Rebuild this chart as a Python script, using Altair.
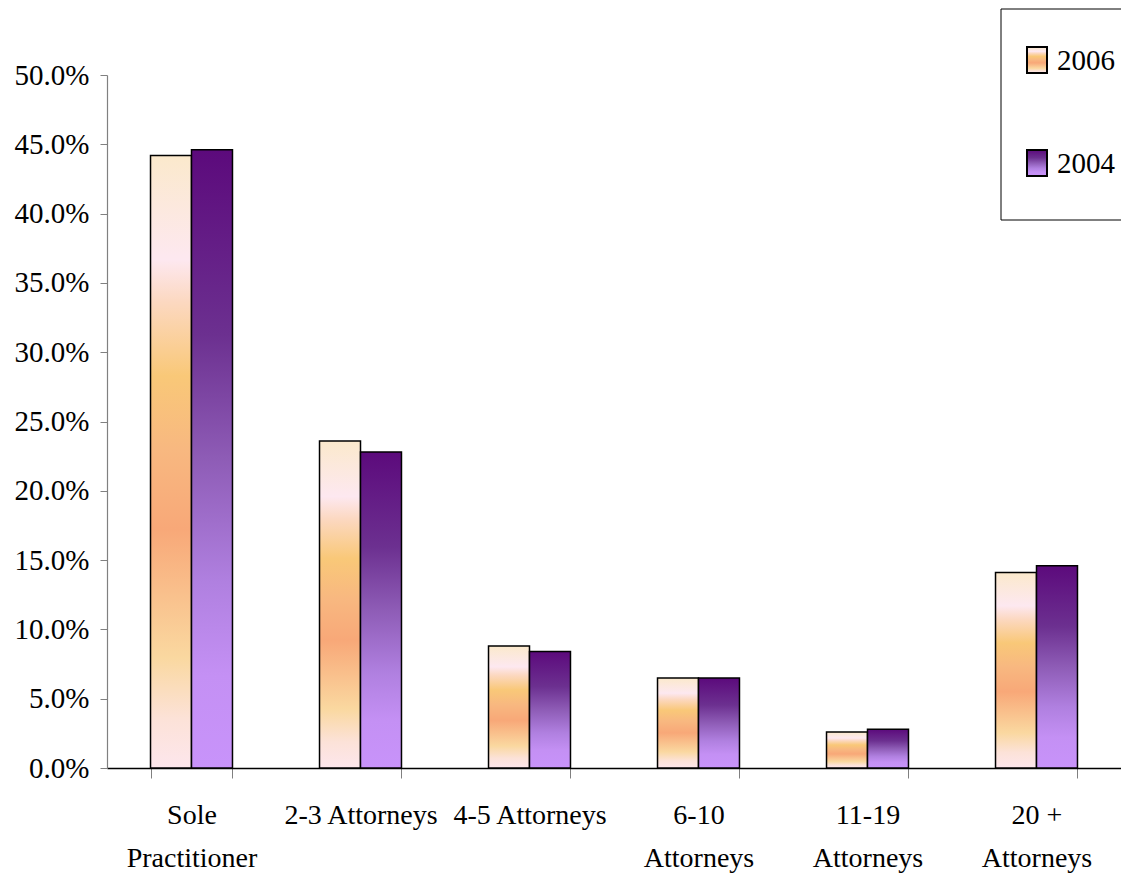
import altair as alt
import pandas as pd

categories = ["Sole\nPractitioner", "2-3 Attorneys", "4-5 Attorneys",
              "6-10\nAttorneys", "11-19\nAttorneys", "20 +\nAttorneys"]
series = ["2006", "2004"]
values_2006 = [0.442, 0.236, 0.088, 0.065, 0.026, 0.141]
values_2004 = [0.446, 0.228, 0.084, 0.065, 0.028, 0.146]
y_ticks = [0.0, 0.05, 0.10, 0.15, 0.20, 0.25, 0.30, 0.35, 0.40, 0.45, 0.50]

rows = []
for c, v in zip(categories, values_2006):
    rows.append({"cat": c, "series": "2006", "value": v})
for c, v in zip(categories, values_2004):
    rows.append({"cat": c, "series": "2004", "value": v})
df = pd.DataFrame(rows)

FONT = "Liberation Serif"

grad_2006 = {
    "gradient": "linear", "x1": 0, "y1": 0, "x2": 0, "y2": 1,
    "stops": [
        {"offset": 0.0, "color": "#FBE9CC"},
        {"offset": 0.17, "color": "#FDE8F0"},
        {"offset": 0.24, "color": "#FCD8C0"},
        {"offset": 0.36, "color": "#F9C878"},
        {"offset": 0.48, "color": "#F8B880"},
        {"offset": 0.61, "color": "#F8A878"},
        {"offset": 0.82, "color": "#FAD8A0"},
        {"offset": 0.92, "color": "#FCE2D8"},
        {"offset": 1.0, "color": "#FDE6EC"},
    ],
}
grad_2004 = {
    "gradient": "linear", "x1": 0, "y1": 0, "x2": 0, "y2": 1,
    "stops": [
        {"offset": 0.0, "color": "#5C0A7C"},
        {"offset": 0.3, "color": "#6C3090"},
        {"offset": 0.5, "color": "#8E5CB6"},
        {"offset": 0.7, "color": "#B080E0"},
        {"offset": 0.85, "color": "#C490F4"},
        {"offset": 1.0, "color": "#C893FA"},
    ],
}
grads = {"2006": grad_2006, "2004": grad_2004}

x_enc = alt.X("cat:N", sort=categories, title=None,
              scale=alt.Scale(paddingInner=0.515, paddingOuter=0.2575),
              axis=alt.Axis(labelExpr="split(datum.label, '\\n')",
                            labelAngle=0, labelFont=FONT, labelFontSize=28,
                            labelColor="#000000", labelLineHeight=43,
                            labelPadding=23, labelBaseline="top",
                            labelOverlap=False, labelBound=False, labelLimit=400,
                            tickBand="extent", tickSize=10, tickColor="#808080",
                            tickWidth=1, domainColor="#000000", domainWidth=1.5,
                            grid=False))
xo_enc = alt.XOffset("series:N", scale=alt.Scale(domain=series, paddingInner=0, paddingOuter=0))
y_enc = alt.Y("value:Q", title=None,
              scale=alt.Scale(domain=[0, 0.5], nice=False),
              axis=alt.Axis(values=y_ticks, format=".1%", labelFont=FONT,
                            labelFontSize=29, labelColor="#000000",
                            labelPadding=11, tickSize=7, tickColor="#808080",
                            domainColor="#808080", domainWidth=1.2, grid=False))

layers = []
for s in series:
    layers.append(
        alt.Chart(df).transform_filter(alt.datum.series == s)
        .mark_bar(fill=grads[s], stroke="#000000", strokeWidth=1.5)
        .encode(x=x_enc, xOffset=xo_enc, y=y_enc)
    )

one = pd.DataFrame({"k": [0]})
legend_box = alt.Chart(one).mark_rect(fill="#ffffff", stroke="#000000", strokeWidth=1).encode(
    x=alt.value(894), x2=alt.value(1040), y=alt.value(-66), y2=alt.value(145))
layers.append(legend_box)

for i, s in enumerate(series):
    y0 = -28 + i * 103
    sym = alt.Chart(one).mark_rect(fill=grads[s], stroke="#000000", strokeWidth=2).encode(
        x=alt.value(920), x2=alt.value(940), y=alt.value(y0), y2=alt.value(y0 + 26))
    txt = alt.Chart(pd.DataFrame({"label": [s]})).mark_text(
        font=FONT, fontSize=29, align="left", baseline="middle", color="#000000").encode(
        x=alt.value(950), y=alt.value(y0 + 14), text="label:N")
    layers.extend([sym, txt])

chart = alt.layer(*layers).properties(
    width=1014, height=693,
    padding={"left": 99, "top": 67, "right": 0, "bottom": 112},
    autosize=alt.AutoSizeParams(type="none"),
    background="#ffffff",
).configure_view(stroke=None)

chart.save("out.html", embed_options={"renderer": "svg", "actions": False})
